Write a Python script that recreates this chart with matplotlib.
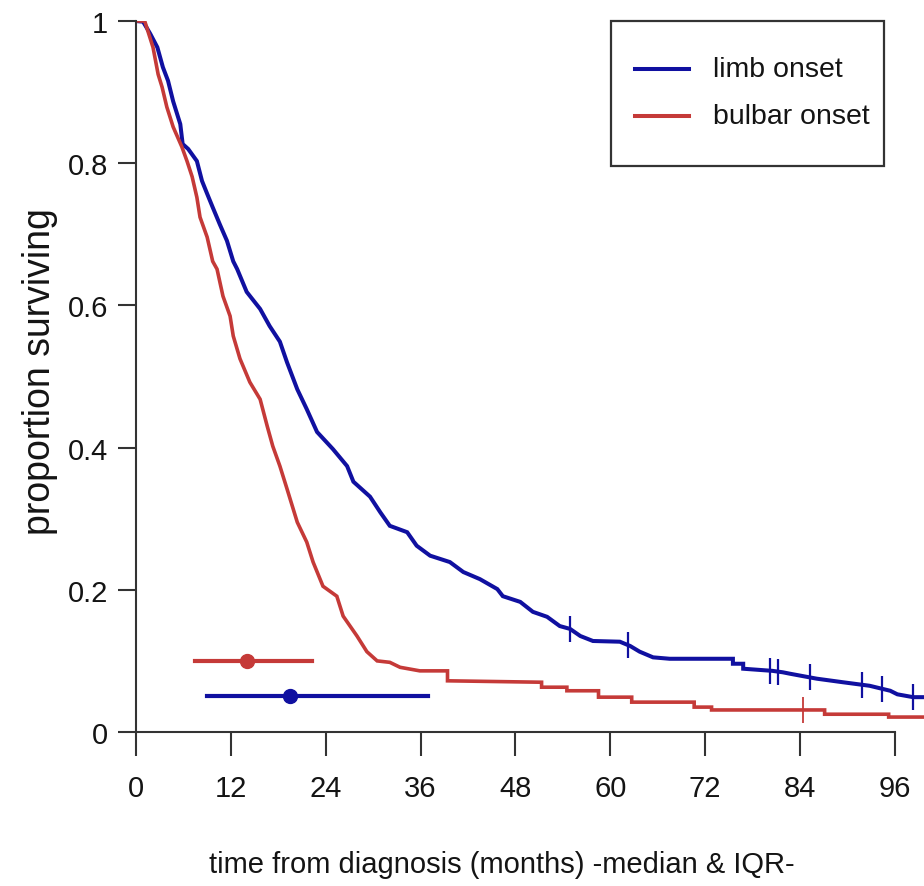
import numpy as np
import matplotlib
matplotlib.use("Agg")
import matplotlib.pyplot as plt
from matplotlib import font_manager as fm
from matplotlib.patches import Rectangle

# ---------------- data ----------------
limb_t = [0.0, 0.9, 1.8, 2.7, 3.4, 4.05, 4.7, 5.6, 5.9, 6.6, 7.7, 8.35, 9.0, 9.7,
          10.6, 11.5, 12.3, 12.8, 14.0, 15.7, 16.9, 18.2, 19.1, 20.4, 21.6, 22.9,
          24.9, 26.7, 27.5, 29.6, 30.9, 32.1, 34.3, 35.5, 37.2, 39.7, 41.4, 43.5,
          45.7, 46.4, 48.6, 50.2, 52.0, 53.6, 54.9, 56.2, 57.8, 61.2, 62.5, 63.7,
          65.4, 67.5, 75.5, 75.5, 76.8, 76.8, 80.5, 81.8, 82.7, 86.1, 89.4, 92.8,
          95.4, 96.3, 98.3, 99.7]
limb_s = [1.0, 0.999, 0.982, 0.963, 0.935, 0.916, 0.887, 0.855, 0.827, 0.820,
          0.803, 0.775, 0.757, 0.738, 0.714, 0.691, 0.662, 0.651, 0.619, 0.595,
          0.571, 0.549, 0.520, 0.482, 0.454, 0.422, 0.398, 0.374, 0.352, 0.331,
          0.309, 0.290, 0.281, 0.262, 0.248, 0.239, 0.225, 0.215, 0.201, 0.191,
          0.183, 0.169, 0.162, 0.149, 0.145, 0.135, 0.128, 0.127, 0.121, 0.113,
          0.105, 0.103, 0.103, 0.096, 0.096, 0.089, 0.086, 0.084, 0.082, 0.075,
          0.070, 0.065, 0.058, 0.053, 0.049, 0.049]

bulbar_t = [0.0, 1.1, 2.15, 2.8, 3.3, 3.9, 4.7, 5.8, 6.45, 7.1, 7.7, 8.1, 9.0,
            9.7, 10.25, 11.0, 11.9, 12.3, 13.15, 14.4, 15.7, 16.6, 17.3, 18.2,
            19.1, 20.4, 21.6, 22.4, 23.65, 25.4, 26.2, 27.95, 29.2, 30.5, 32.1,
            33.4, 35.9, 39.4, 39.4, 51.3, 51.3, 54.5, 54.5, 58.5, 58.5, 62.7,
            62.7, 70.6, 70.6, 72.8, 72.8, 87.1, 87.1, 95.2, 95.2, 99.7]
bulbar_s = [1.0, 1.0, 0.963, 0.925, 0.907, 0.879, 0.851, 0.823, 0.803, 0.781,
            0.752, 0.724, 0.696, 0.662, 0.651, 0.613, 0.585, 0.557, 0.525, 0.492,
            0.468, 0.430, 0.402, 0.374, 0.342, 0.295, 0.267, 0.239, 0.205, 0.191,
            0.163, 0.135, 0.113, 0.100, 0.098, 0.091, 0.086, 0.086, 0.072, 0.070,
            0.063, 0.063, 0.058, 0.058, 0.049, 0.049, 0.042, 0.042, 0.035, 0.035,
            0.031, 0.031, 0.025, 0.025, 0.021, 0.021]

limb_censor = [54.9, 62.2, 80.2, 81.2, 85.25, 91.8, 94.4, 98.3]
bulbar_censor = [84.4]

# median & IQR  (q1, median, q3)
bulbar_iqr = [7.5, 14.0, 22.3]
limb_iqr = [9.0, 19.5, 36.9]
bulbar_iqr_y = 0.10
limb_iqr_y = 0.05

labels = ["limb onset", "bulbar onset"]
xticks = [0, 12, 24, 36, 48, 60, 72, 84, 96]
yticks = [0, 0.2, 0.4, 0.6, 0.8, 1.0]
yticklabels = ["0", "0.2", "0.4", "0.6", "0.8", "1"]

# ---------------- styling ----------------
BLUE = "#1010A0"
RED = "#C53A38"
AXC = "#333333"
TXT = "#141414"

names = {f.name for f in fm.fontManager.ttflist}
if "Liberation Sans Narrow" in names:
    HFONT, HSIZE = "Liberation Sans Narrow", 25
else:
    HFONT, HSIZE = "Liberation Sans", 21
VFONT = "Liberation Sans"

fig = plt.figure(figsize=(9.24, 8.87), dpi=100)
ax = fig.add_axes([136 / 924, 154 / 887, 788 / 924, 711 / 887])
ax.set_xlim(0, 99.67)
ax.set_ylim(0, 1)

ax.plot(limb_t, limb_s, color=BLUE, lw=2.9, solid_joinstyle="miter")
ax.plot(bulbar_t, bulbar_s, color=RED, lw=2.6, solid_joinstyle="miter")

ax.plot(limb_censor, np.interp(limb_censor, limb_t, limb_s), ls="none",
        marker="|", ms=19, mew=1.6, color=BLUE)
ax.plot(bulbar_censor, np.interp(bulbar_censor, bulbar_t, bulbar_s), ls="none",
        marker="|", ms=19, mew=1.3, color=RED)

# median & IQR bars
ax.plot([bulbar_iqr[0], bulbar_iqr[2]], [bulbar_iqr_y] * 2, color=RED, lw=3)
ax.plot([bulbar_iqr[1]], [bulbar_iqr_y], "o", color=RED, ms=10)
ax.plot([limb_iqr[0], limb_iqr[2]], [limb_iqr_y] * 2, color=BLUE, lw=3)
ax.plot([limb_iqr[1]], [limb_iqr_y], "o", color=BLUE, ms=10)

# axes in R style
for s in ["top", "right"]:
    ax.spines[s].set_visible(False)
ax.spines["left"].set_bounds(0, 1)
ax.spines["bottom"].set_bounds(0, 96)
for s in ["left", "bottom"]:
    ax.spines[s].set_color(AXC)
    ax.spines[s].set_linewidth(1.5)
ax.set_xticks(xticks)
ax.set_xticklabels([str(v) for v in xticks])
ax.set_yticks(yticks)
ax.set_yticklabels(yticklabels)
ax.tick_params(axis="y", direction="out", length=13, width=1.5, color=AXC, pad=7,
               labelsize=HSIZE, labelcolor=TXT)
ax.tick_params(axis="x", direction="out", length=17, width=1.5, color=AXC, pad=13,
               labelsize=HSIZE, labelcolor=TXT)
for lab in ax.get_xticklabels() + ax.get_yticklabels():
    lab.set_fontfamily(HFONT)

# legend (manual, R style)
ax.add_patch(Rectangle((60.1, 0.796), 34.5, 0.204, fill=False, lw=1.6,
                       edgecolor=AXC, clip_on=False))
for yy, col, lab in [(0.932, BLUE, labels[0]), (0.866, RED, labels[1])]:
    ax.plot([63.1, 69.9], [yy, yy], color=col, lw=2.9, clip_on=False)
    ax.text(73.0, yy, lab, fontsize=20.5, family=HFONT, va="center",
            ha="left", color=TXT)

fig.text(502 / 924, 1 - 865 / 887, "time from diagnosis (months) -median & IQR-",
         ha="center", va="center", fontsize=HSIZE, family=HFONT, color=TXT)
fig.text(40 / 924, 1 - 372 / 887, "proportion surviving", rotation=90,
         ha="center", va="center", fontsize=27, family=VFONT, color=TXT)

fig.savefig("out.png", dpi=100)
